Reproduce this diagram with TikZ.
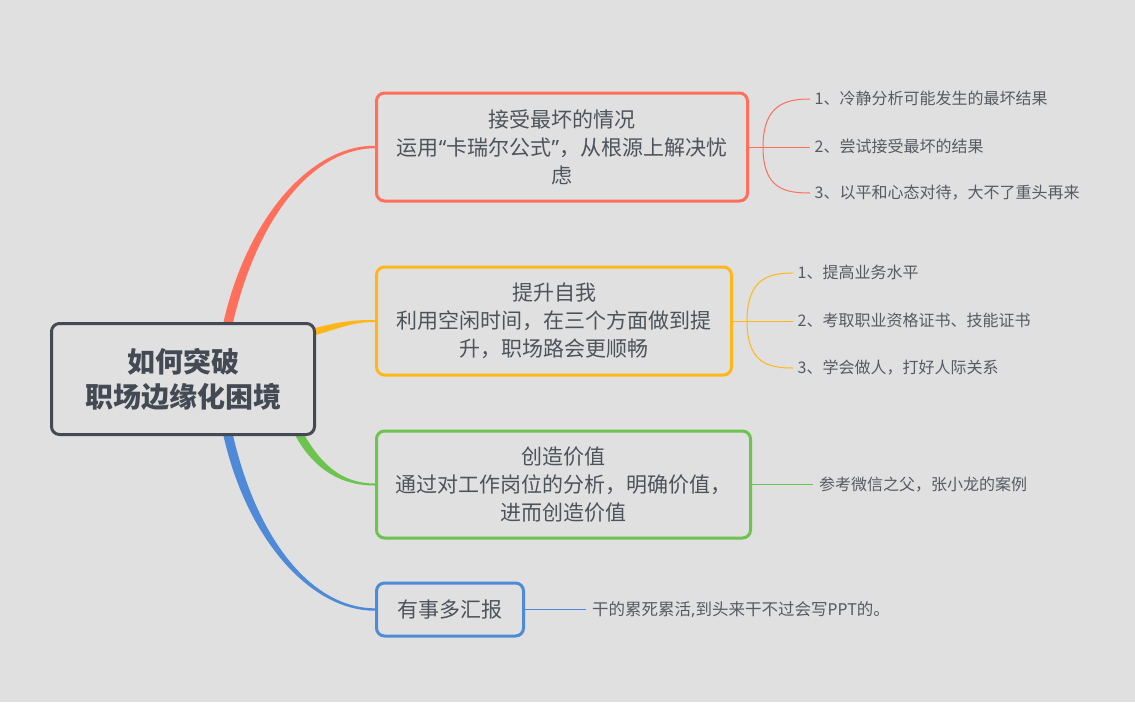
\documentclass[tikz,border=0pt]{standalone}
\usepackage{fontspec}
\newfontfamily\cjk{Noto Sans CJK SC}
\newfontfamily\lat{Noto Sans}
\usetikzlibrary{calc}
\definecolor{bgc}{HTML}{E0E0E0}
\definecolor{rootc}{HTML}{434A54}
\definecolor{tcol}{HTML}{4D535B}
\definecolor{icol}{HTML}{565B62}
\definecolor{cred}{HTML}{FF6F5C}
\definecolor{cyel}{HTML}{FFB619}
\definecolor{cgrn}{HTML}{6CC34F}
\definecolor{cblu}{HTML}{4F8AD8}
\pgfdeclarelayer{bgl}
\pgfdeclarelayer{brl}
\pgfsetlayers{bgl,brl,main}
\begin{document}
\begin{tikzpicture}[x=1pt,y=-1pt,
  rootbox/.style={draw=rootc, line width=3pt, rounded corners=8pt, fill=bgc, align=center, text=rootc,
    font=\cjk\bfseries\fontsize{28}{35}\selectfont, inner sep=0pt},
  topic/.style={line width=3pt, rounded corners=8pt, fill=bgc, align=center, text=tcol,
    font=\cjk\fontsize{21}{28}\selectfont, inner sep=0pt},
  item/.style={anchor=west, text=icol, font=\cjk\fontsize{16}{19}\selectfont, inner xsep=4.5pt, inner ysep=0pt,
    text height=1.12em, text depth=0em},
  sub/.style={line width=1pt}]
\begin{pgfonlayer}{bgl}
\fill[bgc] (0,0) rectangle (1135,702);
\end{pgfonlayer}
\useasboundingbox (0,0) rectangle (1135,702);

% central and topic nodes
\node[rootbox, minimum width=263pt, minimum height=111pt] (root) at (183,379) {如何突破\\职场边缘化困境};
\node[topic, draw=cred, minimum width=371pt, minimum height=108pt] (t1) at (562,147) {接受最坏的情况\\运用{\lat“}卡瑞尔公式{\lat”}，从根源上解决忧\\虑};
\node[topic, draw=cyel, minimum width=355pt, minimum height=108pt] (t2) at (554,321) {提升自我\\利用空闲时间，在三个方面做到提\\升，职场路会更顺畅};
\node[topic, draw=cgrn, minimum width=374pt, minimum height=107pt] (t3) at (563.5,484.5) {创造价值\\通过对工作岗位的分析，明确价值，\\进而创造价值};
\node[topic, draw=cblu, minimum width=147pt, minimum height=53pt] (t4) at (450,609.5) {有事多汇报};

% sub items
\node[item] (r1) at (810,99) {1、冷静分析可能发生的最坏结果};
\node[item] (r2) at (810,147) {2、尝试接受最坏的结果};
\node[item] (r3) at (810,193) {3、以平和心态对待，大不了重头再来};
\node[item] (y1) at (793,273) {1、提高业务水平};
\node[item] (y2) at (793,321) {2、考取职业资格证书、技能证书};
\node[item] (y3) at (793,368) {3、学会做人，打好人际关系};
\node[item, inner xsep=6pt] (g1) at (813,484.5) {参考微信之父，张小龙的案例};
\node[item, inner xsep=6pt, font=\cjk\fontsize{16.5}{19}\selectfont] (b1) at (586,609.5) {干的累死累活{\lat,}到头来干不过会写{\lat PPT}的。};

% fork points
\coordinate (rf) at (763,147);
\coordinate (yf) at (747,321);

% sub connectors
\draw[sub, cred] (t1.east) -- (r2.west);
\draw[sub, cred] (rf) .. controls +(0,-42) and +(-25,0) .. (r1.west);
\draw[sub, cred] (rf) .. controls +(0,42) and +(-25,0) .. (r3.west);
\draw[sub, cyel] (t2.east) -- (y2.west);
\draw[sub, cyel] (yf) .. controls +(0,-42) and +(-25,0) .. (y1.west);
\draw[sub, cyel] (yf) .. controls +(0,42) and +(-25,0) .. (y3.west);
\draw[sub, cgrn] (t3.east) -- (g1.west);
\draw[sub, cblu] (t4.east) -- (b1.west);

% main tapered branches
\coordinate (rs) at ($(root.north)+(44,6)$);
\coordinate (ys) at ($(root.east)+(-6,-46)$);
\coordinate (gs) at ($(root.south)+(114,-6)$);
\coordinate (bs) at ($(root.south)+(44,-6)$);
\begin{pgfonlayer}{brl}
\fill[cred] ($(rs)+(-4.8,0)$) .. controls (245,220) and (310,145.1) .. ($(t1.west)+(0,-1.2)$)
   -- ($(t1.west)+(0,1.2)$) .. controls (310,148.9) and (255,222) .. ($(rs)+(4.8,0)$) -- cycle;
\fill[cyel] ($(ys)+(0,-3.6)$) .. controls (337,322) and (352,319.8) .. ($(t2.west)+(0,-1)$)
   -- ($(t2.west)+(0,1)$) .. controls (352,321.8) and (338,329) .. ($(ys)+(0,3.6)$) -- cycle;
\fill[cgrn] ($(gs)+(-4.5,0)$) .. controls (311,468) and (340,485.7) .. ($(t3.west)+(0,1)$)
   -- ($(t3.west)+(0,-1)$) .. controls (340,483.3) and (320,463) .. ($(gs)+(4.5,0)$) -- cycle;
\fill[cblu] ($(bs)+(-4.8,0)$) .. controls (245,538) and (310,610.9) .. ($(t4.west)+(0,1.2)$)
   -- ($(t4.west)+(0,-1.2)$) .. controls (310,608.1) and (255,536) .. ($(bs)+(4.8,0)$) -- cycle;
\end{pgfonlayer}
\end{tikzpicture}
\end{document}
